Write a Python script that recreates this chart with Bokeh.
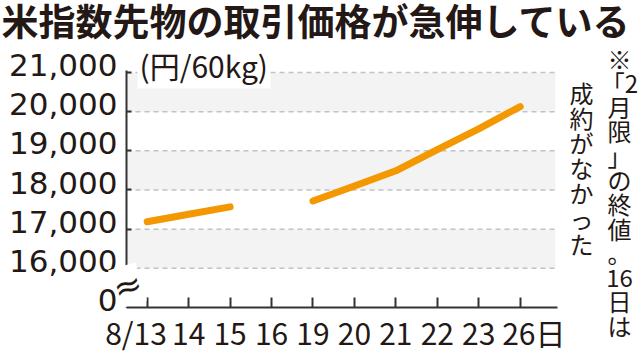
from bokeh.plotting import figure
from bokeh.models import FixedTicker, Label, Range1d, LinearAxis
from bokeh.embed import file_html
from bokeh.resources import INLINE

# ---- data ----
title_text = "米指数先物の取引価格が急伸している"
unit_text = "(円/60kg)"
# vertical note, one entry per printed line (read top to bottom)
note_col1 = ["※", "「2", "月", "限", "」", "の", "終", "値", "。", "16", "日", "は"]
note_col2 = ["成", "約", "が", "な", "か", "っ", "た"]

dates = ["8/13", "14", "15", "16", "19", "20", "21", "22", "23", "26日"]
prices = [17190, 17380, 17570, float("nan"), 17720, 18100, 18490, 19030, 19560, 20130]

y_ticks = [15000, 16000, 17000, 18000, 19000, 20000, 21000]
y_tick_labels = ["0", "16,000", "17,000", "18,000", "19,000", "20,000", "21,000"]

# ---- layout constants (pixel geometry of the plotting area) ----
W, H = 640, 353
AX_LEFT_PX, AX_RIGHT_PX, AX_BOTTOM_PX = 126, 557, 307
PX_PER_UNIT_Y = 39.17 / 1000.0
X0 = -0.5
PX_PER_UNIT_X = 41.44
Y0 = 15000


def dx(px):
    return X0 + (px - AX_LEFT_PX) / PX_PER_UNIT_X


def dy(py):
    return Y0 + (AX_BOTTOM_PX - py) / PX_PER_UNIT_Y


X_AXIS_END = dx(AX_RIGHT_PX)
GRID_END = dx(555)

TEXT = "#231815"
ORANGE = "#f39800"
AXIS = "#333333"

p = figure(width=W, height=H, output_backend="svg", toolbar_location=None,
           x_range=Range1d(dx(0), dx(W)), y_range=Range1d(dy(H), dy(0)),
           min_border_left=0, min_border_right=0,
           min_border_top=0, min_border_bottom=0)
p.outline_line_color = None
p.background_fill_color = "white"
p.border_fill_color = "white"
p.title.visible = False
p.xgrid.visible = False
p.ygrid.visible = False

# alternating bands and dashed grid lines
band_bottom = [y_ticks[i] for i in range(len(y_ticks) - 1) if i % 2 == 1]
band_top = [y_ticks[i + 1] for i in range(len(y_ticks) - 1) if i % 2 == 1]
p.quad(left=X0, right=GRID_END, bottom=band_bottom, top=band_top,
       fill_color="#f3f3f3", line_color=None)
p.segment(x0=X0, x1=GRID_END, y0=y_ticks[1:], y1=y_ticks[1:],
          line_color="#c2c2c2", line_width=1.5, line_dash="5 4")

# y axis A: line + inner ticks only
ya = p.yaxis[0]
ya.fixed_location = X0
ya.ticker = FixedTicker(ticks=[], minor_ticks=y_ticks[1:])
ya.bounds = (Y0, 21050)
ya.axis_line_color = AXIS
ya.axis_line_width = 2
ya.major_tick_in = 0
ya.major_tick_out = 0
ya.minor_tick_in = 5
ya.minor_tick_out = 0
ya.minor_tick_line_color = AXIS
ya.minor_tick_line_width = 2
ya.major_label_standoff = 0

# y axis B: labels only, sitting slightly above the ticks
shift = 190
lab_pos = [v + shift for v in y_ticks]
yb = LinearAxis(ticker=FixedTicker(ticks=lab_pos, minor_ticks=[]),
                major_label_overrides={v: t for v, t in zip(lab_pos, y_tick_labels)},
                fixed_location=X0)
yb.axis_line_color = None
yb.major_tick_line_color = None
yb.minor_tick_line_color = None
yb.major_tick_in = 0
yb.major_tick_out = 0
yb.major_label_standoff = 9
yb.major_label_text_font = "DejaVu Sans"
yb.major_label_text_font_size = "31px"
yb.major_label_text_color = TEXT
p.add_layout(yb, "left")

# x axis
xs = list(range(len(dates)))
x_offsets = [0.0] * len(dates)
x_offsets[0] = -0.27
x_offsets[-1] = 0.33
x_lab_pos = [x + o for x, o in zip(xs, x_offsets)]
xa = p.xaxis[0]
xa.fixed_location = Y0
xa.bounds = (X0, X_AXIS_END)
xa.ticker = FixedTicker(ticks=x_lab_pos, minor_ticks=xs)
xa.major_label_overrides = {v: t for v, t in zip(x_lab_pos, dates)}
xa.axis_line_color = AXIS
xa.axis_line_width = 2
xa.major_tick_line_color = None
xa.major_tick_in = 0
xa.major_tick_out = 0
xa.minor_tick_in = 10
xa.minor_tick_out = 0
xa.minor_tick_line_color = AXIS
xa.minor_tick_line_width = 2
xa.major_label_standoff = 2
xa.major_label_text_font = "Noto Sans CJK JP"
xa.major_label_text_font_size = "30px"
xa.major_label_text_color = TEXT

# price line
p.line(x=xs, y=prices, line_width=7, line_color=ORANGE,
       line_cap="round", line_join="round")

# annotations
p.add_layout(Label(x=dx(1), y=dy(19.5), text=title_text, text_align="left",
                   text_baseline="middle", text_font="Noto Sans CJK JP",
                   text_font_style="bold", text_font_size="37px", text_color=TEXT))
p.add_layout(Label(x=dx(137), y=dy(64), text=unit_text, text_align="left",
                   text_baseline="middle", text_font="Noto Sans CJK JP",
                   text_font_size="30px", text_color=TEXT,
                   background_fill_color="white", padding=2))
p.add_layout(Label(x=dx(127), y=dy(285), text="≈", text_align="center",
                   text_baseline="middle", text_font="DejaVu Sans",
                   text_font_size="34px", text_color=TEXT, angle=0.3,
                   background_fill_color="white", padding=0))
p.add_layout(Label(x=dx(619), y=dy(40), text="\n".join(note_col1), text_align="center",
                   text_baseline="top", text_font="Noto Sans CJK JP",
                   text_font_size="24px", text_line_height=0.694, text_color=TEXT))
p.add_layout(Label(x=dx(581), y=dy(74), text="\n".join(note_col2), text_align="center",
                   text_baseline="top", text_font="Noto Sans CJK JP",
                   text_font_size="24px", text_line_height=0.72, text_color=TEXT))

open("out.html", "w").write(file_html(p, INLINE))
